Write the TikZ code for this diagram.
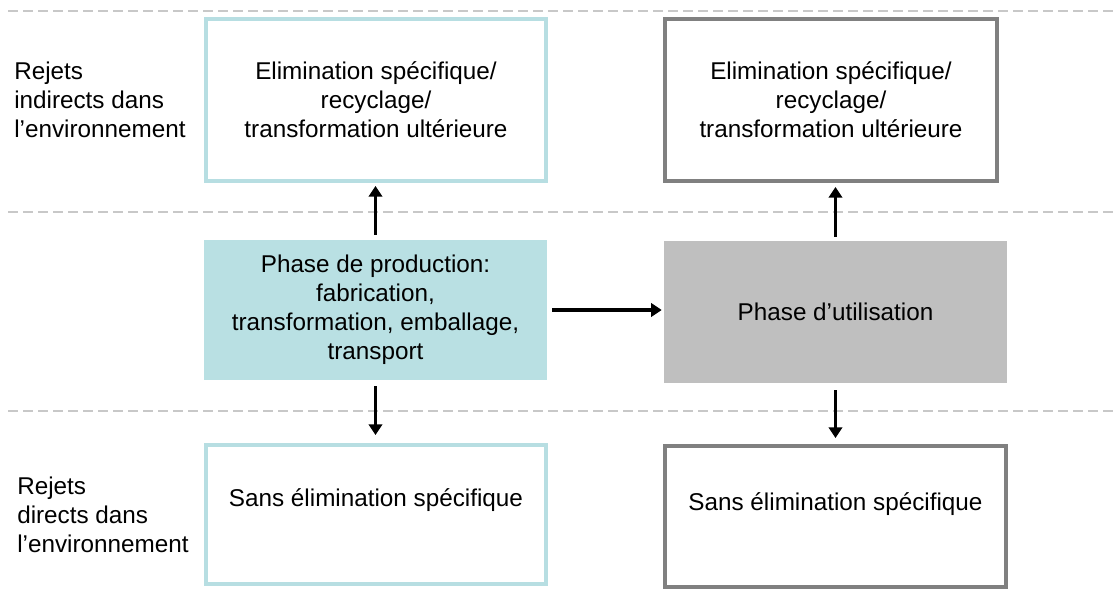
\documentclass[tikz,border=0pt]{standalone}
\usepackage{fontspec}
\setmainfont{Liberation Sans}
\usetikzlibrary{arrows.meta}
\definecolor{tealb}{HTML}{B7DEE2}
\definecolor{tealf}{HTML}{B9E0E3}
\definecolor{grayb}{HTML}{808080}
\definecolor{grayf}{HTML}{BFBFBF}
\definecolor{dashc}{HTML}{C8C8C8}
\begin{document}
\begin{tikzpicture}[x=0.75pt,y=-0.75pt,
  every node/.style={font=\fontsize{18.2}{21.75}\selectfont, inner sep=0pt, text=black},
  tbox/.style={draw=tealb, line width=3pt, fill=white, align=center},
  gbox/.style={draw=grayb, line width=3pt, fill=white, align=center},
  tfill/.style={fill=tealf, draw=none, align=center},
  gfill/.style={fill=grayf, draw=none, align=center},
  sepline/.style={draw=dashc, line width=1.5pt, dash pattern=on 7.5pt off 3.75pt},
  arr/.style={line width=2.5pt, -{Triangle[length=8pt,width=10pt]}},
  sidelbl/.style={anchor=west, align=left}
]
\useasboundingbox (0,0) rectangle (1115,610);
% separators
\draw[sepline] (8,11) -- (1115,11);
\draw[sepline] (8,212) -- (1115,212);
\draw[sepline] (8,411) -- (1115,411);
% side labels
\node[sidelbl] (lblA) at (14,100) {Rejets\\indirects dans\\l’environnement};
\node[sidelbl] (lblB) at (17,515) {Rejets\\directs dans\\l’environnement};
% top boxes
\node[tbox, minimum width=255pt, minimum height=121.5pt] (elimA) at (376,100)
  {Elimination spécifique/\\recyclage/\\transformation ultérieure};
\node[gbox, minimum width=249pt, minimum height=121.5pt] (elimB) at (831,100)
  {Elimination spécifique/\\recyclage/\\transformation ultérieure};
% middle boxes
\node[tfill, minimum width=257.25pt, minimum height=105pt] (prod) at (375.5,310)
  {Phase de production:\\fabrication,\\transformation, emballage,\\transport};
\node[gfill, minimum width=257.25pt, minimum height=106.5pt] (use) at (835.5,312)
  {Phase d’utilisation};
% bottom boxes
\node[tbox, minimum width=255pt, minimum height=104.25pt,
  label={[yshift=10.5pt]center:Sans élimination spécifique}] (sansA) at (376,514.5) {};
\node[gbox, minimum width=255.75pt, minimum height=105.75pt,
  label={[yshift=9.5pt]center:Sans élimination spécifique}] (sansB) at (835.5,516.5) {};
% arrows
\draw[arr, shorten <=3.75pt, shorten >=2.25pt] (prod.north) -- (prod.north |- elimA.south);
\draw[arr, shorten <=3pt, shorten >=3pt] (use.north) -- (use.north |- elimB.south);
\draw[arr, shorten <=4.5pt, shorten >=6pt] (prod.south) -- (prod.south |- sansA.north);
\draw[arr, shorten <=5.25pt, shorten >=4.5pt] (use.south) -- (use.south |- sansB.north);
\draw[arr, shorten <=3.75pt, shorten >=1.5pt] (prod.east) -- (prod.east -| use.west);
\end{tikzpicture}
\end{document}
